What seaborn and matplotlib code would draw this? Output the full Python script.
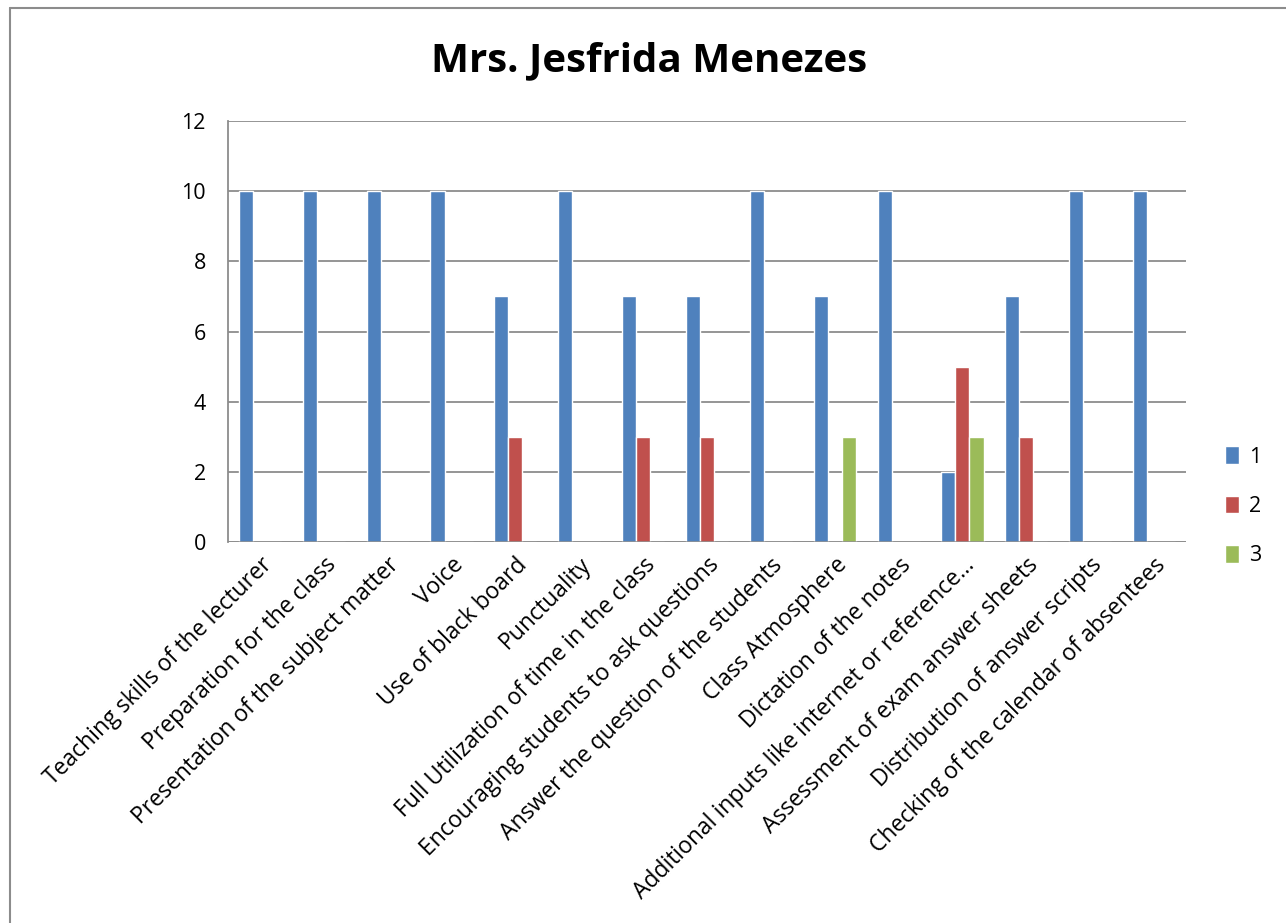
import numpy as np
import pandas as pd
import matplotlib.pyplot as plt
import seaborn as sns

categories = ['Teaching skills of the lecturer', 'Preparation for the class',
              'Presentation of the subject matter', 'Voice', 'Use of black board',
              'Punctuality', 'Full Utilization of time in the class',
              'Encouraging students to ask questions', 'Answer the question of the students',
              'Class Atmosphere', 'Dictation of the notes',
              'Additional inputs like internet or reference...',
              'Assessment of exam answer sheets', 'Distribution of answer scripts',
              'Checking of the calendar of absentees']
s1 = [10, 10, 10, 10, 7, 10, 7, 7, 10, 7, 10, 2, 7, 10, 10]
s2 = [0, 0, 0, 0, 3, 0, 3, 3, 0, 0, 0, 5, 3, 0, 0]
s3 = [0, 0, 0, 0, 0, 0, 0, 0, 0, 3, 0, 3, 0, 0, 0]
series = ['1', '2', '3']
colors = ['#4F81BD', '#C0504D', '#9BBB59']

df = pd.DataFrame({
    'category': categories * 3,
    'series': [s for s in series for _ in categories],
    'value': s1 + s2 + s3,
})

sns.set_style('white')
plt.rcParams['font.family'] = ['Open Sans', 'DejaVu Sans']
plt.rcParams['text.color'] = 'black'
plt.rcParams['xtick.color'] = 'black'
plt.rcParams['ytick.color'] = 'black'

fig = plt.figure(figsize=(12.86, 9.23), dpi=100)
ax = fig.add_axes([228/1286, 1-542/923, (1186-228)/1286, (542-121)/923])
sns.barplot(data=df, x='category', y='value', hue='series', palette=colors,
            width=0.66, ax=ax, saturation=1, legend=True)

ax.set_ylim(0, 12)
ax.set_yticks(range(0, 13, 2))
ax.yaxis.grid(True, color='#8c8c8c', linewidth=1.3)
ax.set_axisbelow(True)
for s in ['top', 'right', 'bottom']:
    ax.spines[s].set_visible(False)
ax.spines['left'].set_color('#8c8c8c')
ax.spines['left'].set_linewidth(1.3)
ax.axhline(0, color='#8c8c8c', linewidth=1.8)
ax.tick_params(axis='y', length=6, color='#8c8c8c', labelsize=15.5, labelcolor='black', pad=10)
ax.tick_params(axis='x', length=0, labelsize=16.5, labelcolor='black', pad=8)
ax.set_xlabel('')
ax.set_ylabel('')
plt.setp(ax.get_xticklabels(), rotation=45, ha='right', rotation_mode='anchor')

ax.legend(loc='center left', bbox_to_anchor=(1.02, 0.085), frameon=False,
          fontsize=15.5, handlelength=0.65, handleheight=0.9, labelspacing=1.3,
          handletextpad=0.5)

fig.text(0.505, 0.934, 'Mrs. Jesfrida Menezes', ha='center', va='center',
         fontsize=29, fontweight='bold', color='black')

# outer chart border
fig.add_artist(plt.Line2D([10/1286, 10/1286], [0, 1-8/923], color='#8c8c8c',
                          linewidth=1.5, transform=fig.transFigure))
fig.add_artist(plt.Line2D([10/1286, 1], [1-8/923, 1-8/923], color='#8c8c8c',
                          linewidth=1.5, transform=fig.transFigure))

fig.savefig('out.png', dpi=100)
